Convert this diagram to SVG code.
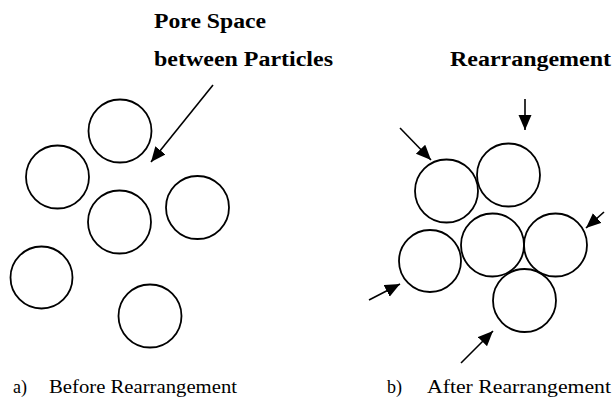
<svg xmlns="http://www.w3.org/2000/svg" width="614" height="401" viewBox="0 0 614 401">
<style>
.p{fill:none;stroke:#000;stroke-width:1.8}
.c{fill:none;stroke:#000;stroke-width:1.6}
text{fill:#000}
.b{font-weight:bold;font-size:20px}
.n{font-size:18px}
</style>
<defs>
<marker id="ah" markerUnits="userSpaceOnUse" markerWidth="18" markerHeight="14" refX="15" refY="6.5" orient="auto">
<path d="M0,0 L15,6.5 L0,13 Z" fill="#000"/>
</marker>
</defs>
<rect width="614" height="401" fill="#fff"/>
<g id="left-panel">
<g id="pL1"><circle class="p" cx="120" cy="131" r="31.5"/></g>
<g id="pL2"><circle class="p" cx="57.5" cy="177" r="31.5"/></g>
<g id="pL3"><circle class="p" cx="119.5" cy="222" r="31.5"/></g>
<g id="pL4"><circle class="p" cx="197.5" cy="207.5" r="31.5"/></g>
<g id="pL5"><circle class="p" cx="41.5" cy="277.5" r="31"/></g>
<g id="pL6"><circle class="p" cx="150" cy="316" r="31.5"/></g>
</g>
<g id="right-panel">
<g id="pR1"><circle class="p" cx="446.5" cy="191" r="31.5"/></g>
<g id="pR2"><circle class="p" cx="508.5" cy="175" r="31.5"/></g>
<g id="pR3"><circle class="p" cx="430" cy="261" r="31"/></g>
<g id="pR4"><circle class="p" cx="492.5" cy="245" r="31.5"/></g>
<g id="pR5"><circle class="p" cx="555.5" cy="245" r="31.5"/></g>
<g id="pR6"><circle class="p" cx="524.5" cy="300.5" r="31.5"/></g>
</g>
<g id="connectors">
<line class="c" x1="213" y1="85" x2="151" y2="162" marker-end="url(#ah)"/>
<line class="c" x1="525" y1="99" x2="525" y2="130" marker-end="url(#ah)"/>
<line class="c" x1="400" y1="128" x2="431" y2="160" marker-end="url(#ah)"/>
<line class="c" x1="604" y1="212" x2="586" y2="228" marker-end="url(#ah)"/>
<line class="c" x1="369" y1="300" x2="400" y2="284" marker-end="url(#ah)"/>
<line class="c" x1="461" y1="363" x2="493" y2="331" marker-end="url(#ah)"/>
</g>
<g id="labels" font-family="'Liberation Serif', 'DejaVu Serif', serif">
<text class="b" x="154" y="28" textLength="112" lengthAdjust="spacingAndGlyphs">Pore Space</text>
<text class="b" x="154" y="66" textLength="179" lengthAdjust="spacingAndGlyphs">between Particles</text>
<text class="b" x="450" y="66" textLength="161" lengthAdjust="spacingAndGlyphs">Rearrangement</text>
<text class="n" x="13" y="393">a)</text>
<text class="n" x="49" y="393" textLength="188" lengthAdjust="spacingAndGlyphs">Before Rearrangement</text>
<text class="n" x="387" y="393">b)</text>
<text class="n" x="427" y="393" textLength="184" lengthAdjust="spacingAndGlyphs">After Rearrangement</text>
</g>
</svg>
